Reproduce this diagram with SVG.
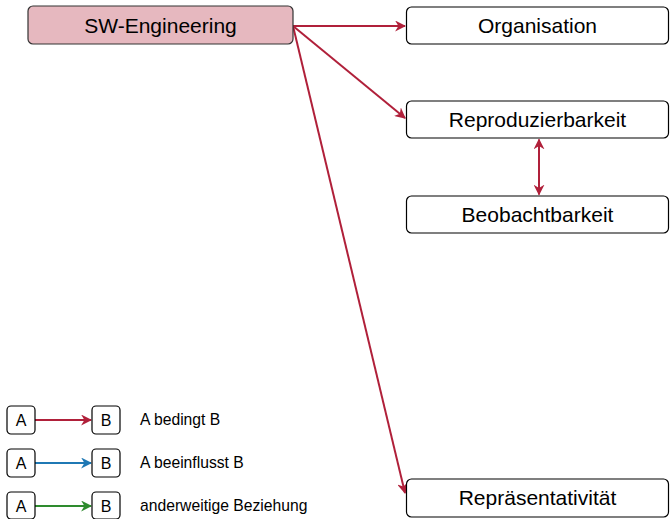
<svg xmlns="http://www.w3.org/2000/svg" width="670" height="519" viewBox="0 0 670 519">
<style>
.node rect{fill:#ffffff;stroke:#000000;stroke-width:1.2}
.main rect{fill:#e6b8bf;stroke:#333333}
.t{font-family:"Liberation Sans",Arial,sans-serif;font-size:21px;fill:#000;text-anchor:middle}
.lt{font-family:"Liberation Sans",Arial,sans-serif;font-size:15.7px;fill:#000}
.lb{font-family:"Liberation Sans",Arial,sans-serif;font-size:16px;fill:#000;text-anchor:middle}
.red{stroke:#b0203a;stroke-width:2;fill:none}
.blue{stroke:#1f78b4;stroke-width:2;fill:none}
.green{stroke:#2e8b2e;stroke-width:2;fill:none}
</style>
<defs>
<marker id="ar" viewBox="0 0 10 10" refX="9" refY="5" markerWidth="5.5" markerHeight="5.5" orient="auto-start-reverse" markerUnits="strokeWidth"><path d="M0,0 L10,5 L0,10 L3,5 z" fill="#b0203a"/></marker>
<marker id="ab" viewBox="0 0 10 10" refX="9" refY="5" markerWidth="5.5" markerHeight="5.5" orient="auto" markerUnits="strokeWidth"><path d="M0,0 L10,5 L0,10 L3,5 z" fill="#1f78b4"/></marker>
<marker id="ag" viewBox="0 0 10 10" refX="9" refY="5" markerWidth="5.5" markerHeight="5.5" orient="auto" markerUnits="strokeWidth"><path d="M0,0 L10,5 L0,10 L3,5 z" fill="#2e8b2e"/></marker>
</defs>
<g id="connectors">
<line class="red" x1="293" y1="26" x2="405" y2="26" marker-end="url(#ar)"/>
<line class="red" x1="293" y1="26" x2="405" y2="118" marker-end="url(#ar)"/>
<line class="red" x1="293" y1="26" x2="405" y2="493" marker-end="url(#ar)"/>
<line class="red" x1="539" y1="139.5" x2="539" y2="194.5" marker-start="url(#ar)" marker-end="url(#ar)"/>
<line class="red" x1="35" y1="420" x2="91" y2="420" marker-end="url(#ar)"/>
<line class="blue" x1="35" y1="463" x2="91" y2="463" marker-end="url(#ab)"/>
<line class="green" x1="35" y1="506" x2="91" y2="506" marker-end="url(#ag)"/>
</g>
<g id="sw" class="node main"><rect x="28" y="6" width="265" height="38" rx="5"/><text class="t" x="160.5" y="32.5">SW-Engineering</text></g>
<g id="organisation" class="node"><rect x="406.5" y="7" width="262" height="37" rx="5"/><text class="t" x="537.5" y="33">Organisation</text></g>
<g id="reproduzierbarkeit" class="node"><rect x="406.5" y="101" width="262" height="37" rx="5"/><text class="t" x="537.5" y="127">Reproduzierbarkeit</text></g>
<g id="beobachtbarkeit" class="node"><rect x="406.5" y="196" width="262" height="37" rx="5"/><text class="t" x="537.5" y="222">Beobachtbarkeit</text></g>
<g id="repraesentativitaet" class="node"><rect x="406.5" y="479" width="262" height="38" rx="5"/><text class="t" x="537.5" y="505">Repräsentativität</text></g>
<g id="legend1"><g class="node"><rect x="7" y="406" width="28" height="28" rx="4"/></g><text class="lb" x="21" y="426">A</text><g class="node"><rect x="92" y="406" width="28" height="28" rx="4"/></g><text class="lb" x="106" y="426">B</text><text class="lt" x="140" y="425">A bedingt B</text></g>
<g id="legend2"><g class="node"><rect x="7" y="449" width="28" height="28" rx="4"/></g><text class="lb" x="21" y="469">A</text><g class="node"><rect x="92" y="449" width="28" height="28" rx="4"/></g><text class="lb" x="106" y="469">B</text><text class="lt" x="140" y="468">A beeinflusst B</text></g>
<g id="legend3"><g class="node"><rect x="7" y="492" width="28" height="27" rx="4"/></g><text class="lb" x="21" y="512">A</text><g class="node"><rect x="92" y="492" width="28" height="27" rx="4"/></g><text class="lb" x="106" y="512">B</text><text class="lt" x="140" y="511">anderweitige Beziehung</text></g>
</svg>
